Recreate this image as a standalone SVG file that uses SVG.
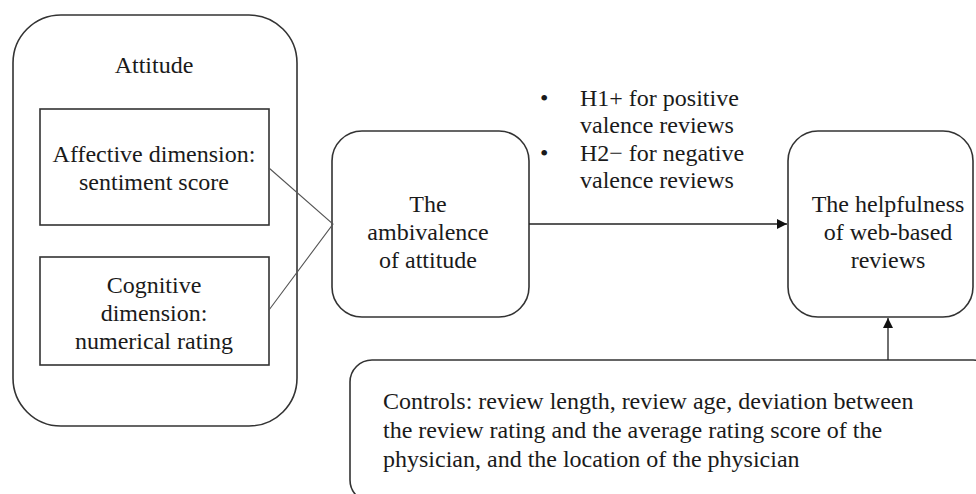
<svg xmlns="http://www.w3.org/2000/svg" width="976" height="494" viewBox="0 0 976 494">
<style>
.box{fill:#fff;stroke:#333;stroke-width:1.6}
.t{font-family:"Liberation Serif","Times New Roman",serif;font-size:24px;fill:#1a1a1a}
.c{text-anchor:middle}
.ln{stroke:#555;stroke-width:1.1;fill:none}
.ar{stroke:#222;stroke-width:1.3;fill:none}
</style>
<defs>
<marker id="ah" viewBox="0 0 10 10" refX="10" refY="5" markerWidth="10" markerHeight="10" markerUnits="userSpaceOnUse" orient="auto">
<path d="M0,0 L10,5 L0,10 z" fill="#111"/>
</marker>
</defs>
<rect width="976" height="494" fill="#fff"/>
<g id="attitude">
<rect class="box" x="13" y="15" width="284" height="411" rx="48"/>
<text class="t c" x="154" y="73">Attitude</text>
</g>
<g id="affective">
<rect class="box" x="40" y="109" width="229" height="116"/>
<text class="t c" x="154" y="162">Affective dimension:</text>
<text class="t c" x="154" y="190">sentiment score</text>
</g>
<g id="cognitive">
<rect class="box" x="40" y="257" width="229" height="108"/>
<text class="t c" x="154" y="293">Cognitive</text>
<text class="t c" x="154" y="321">dimension:</text>
<text class="t c" x="154" y="349">numerical rating</text>
</g>
<g id="ambivalence">
<rect class="box" x="332" y="131" width="197" height="186" rx="30"/>
<text class="t c" x="428" y="212">The</text>
<text class="t c" x="428" y="240">ambivalence</text>
<text class="t c" x="428" y="268">of attitude</text>
</g>
<g id="helpfulness">
<rect class="box" x="788" y="131" width="185" height="186" rx="30"/>
<text class="t c" x="888" y="212">The helpfulness</text>
<text class="t c" x="888" y="240">of web-based</text>
<text class="t c" x="888" y="268">reviews</text>
</g>
<g id="hypotheses">
<text class="t" x="540" y="106">•</text>
<text class="t" x="580" y="106">H1+ for positive</text>
<text class="t" x="580" y="133">valence reviews</text>
<text class="t" x="540" y="161">•</text>
<text class="t" x="580" y="161">H2− for negative</text>
<text class="t" x="580" y="188">valence reviews</text>
</g>
<g id="controls">
<rect class="box" x="350" y="360" width="645" height="142" rx="22"/>
<text class="t" x="383" y="409">Controls: review length, review age, deviation between</text>
<text class="t" x="383" y="438">the review rating and the average rating score of the</text>
<text class="t" x="383" y="467">physician, and the location of the physician</text>
</g>
<g id="connectors">
<path class="ln" d="M269,168 L333,224 L269,310"/>
<line class="ar" x1="529" y1="224" x2="787" y2="224" marker-end="url(#ah)"/>
<line class="ar" x1="888" y1="360" x2="888" y2="318" marker-end="url(#ah)"/>
</g>
</svg>
